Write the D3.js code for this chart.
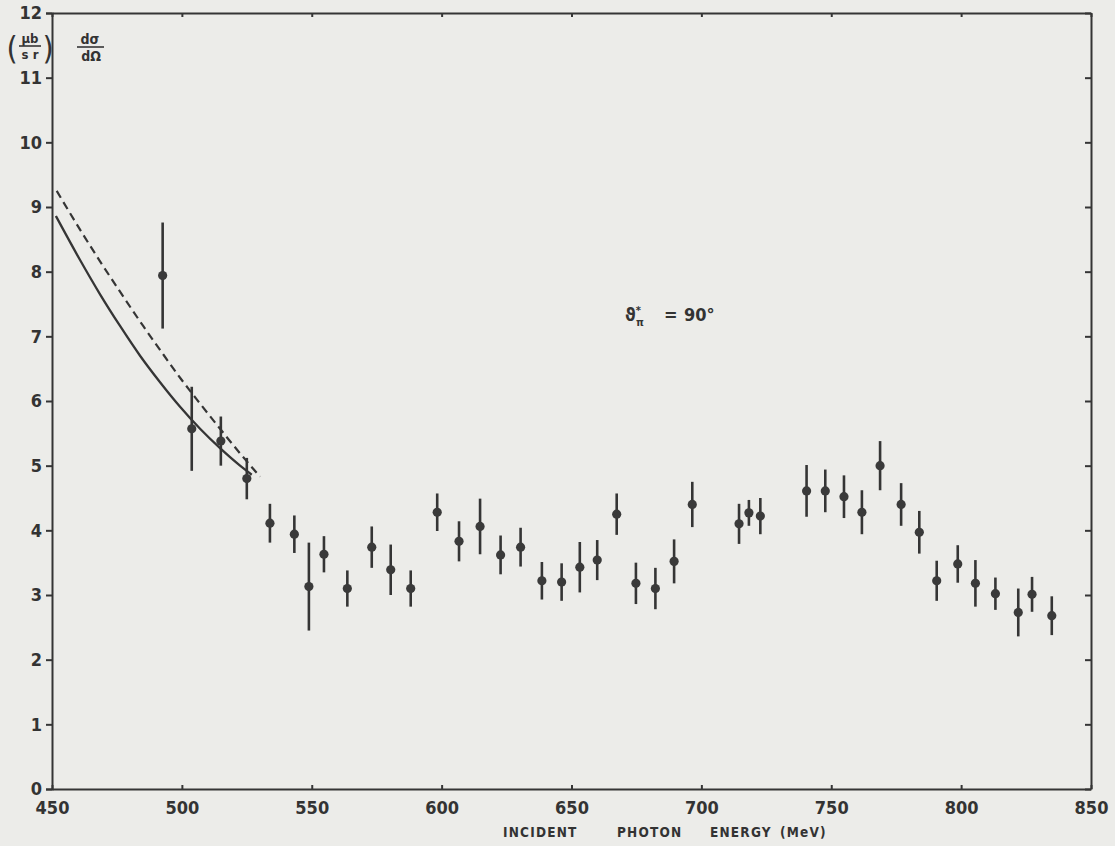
<!DOCTYPE html>
<html>
<head>
<meta charset="utf-8">
<script src="https://cdn.jsdelivr.net/npm/d3@7"></script>
<style>
  body { margin: 0; background: #ecece9; }
  svg { display: block; }
  .lbl { font-family: "DejaVu Sans Condensed", "DejaVu Sans", sans-serif; font-weight: bold; fill: #333; }
</style>
</head>
<body>
<div id="chart"></div>
<script>

// measured points: photon energy (MeV), cross section (ub/sr), error
var energies = [492.6, 503.8, 515.0, 525.0, 533.9, 543.3, 548.9, 554.7, 563.7, 573.1,
                580.4, 588.1, 598.3, 606.7, 614.8, 622.7, 630.4, 638.6, 646.2, 653.2,
                659.9, 667.4, 674.8, 682.3, 689.5, 696.5, 714.5, 718.3, 722.7, 740.5,
                747.7, 754.9, 761.8, 768.8, 776.9, 783.9, 790.6, 798.7, 805.5, 813.2,
                822.0, 827.3, 834.9];
var xsec = [7.94, 5.57, 5.38, 4.80, 4.11, 3.94, 3.13, 3.63, 3.10, 3.74,
            3.39, 3.10, 4.28, 3.83, 4.06, 3.62, 3.74, 3.22, 3.20, 3.43,
            3.54, 4.25, 3.18, 3.10, 3.52, 4.40, 4.10, 4.27, 4.22, 4.61,
            4.61, 4.52, 4.28, 5.00, 4.40, 3.97, 3.22, 3.48, 3.18, 3.02,
            2.73, 3.01, 2.68];
var errors = [0.82, 0.65, 0.38, 0.32, 0.30, 0.29, 0.68, 0.28, 0.28, 0.32,
              0.39, 0.28, 0.29, 0.31, 0.43, 0.30, 0.30, 0.29, 0.29, 0.39,
              0.31, 0.32, 0.32, 0.32, 0.34, 0.35, 0.31, 0.20, 0.28, 0.40,
              0.33, 0.33, 0.34, 0.38, 0.33, 0.33, 0.31, 0.29, 0.36, 0.25,
              0.37, 0.27, 0.30];

// theory curves
var solidE = [451.5, 460.8, 468.5, 476.2, 483.9, 491.6, 499.3, 507.0, 514.7, 522.4, 526.9];
var solidV = [8.86, 8.18, 7.65, 7.16, 6.70, 6.29, 5.91, 5.57, 5.27, 5.00, 4.86];
var dashedE = [451.8, 460.8, 468.5, 476.2, 485.1, 491.6, 499.3, 507.0, 514.7, 522.4, 530.1];
var dashedV = [9.25, 8.65, 8.16, 7.69, 7.16, 6.79, 6.36, 5.96, 5.57, 5.19, 4.83];

var xTicks = [450, 500, 550, 600, 650, 700, 750, 800, 850];
var yTicks = [0, 1, 2, 3, 4, 5, 6, 7, 8, 9, 10, 11, 12];

var ink = "#353535";

var margin = {top: 13, right: 24, bottom: 57, left: 52};
var width = 1115 - margin.left - margin.right,
    height = 846 - margin.top - margin.bottom;

var svg = d3.select("#chart").append("svg")
    .attr("width", 1115)
    .attr("height", 846);

var g = svg.append("g")
    .attr("transform", "translate(" + margin.left + "," + margin.top + ")");

// Scales
var x = d3.scaleLinear().domain([450, 850]).range([0, width]);
var y = d3.scaleLinear().domain([0, 12]).range([height, 0]);

// Axes (left / bottom labelled, top / right just ticks)
var yAxis = d3.axisLeft(y).tickValues(yTicks).tickSize(6).tickPadding(4);
var xAxis = d3.axisBottom(x).tickValues(xTicks).tickSizeInner(-4).tickSizeOuter(0).tickPadding(12);
var topAxis = d3.axisTop(x).tickValues(xTicks).tickSizeInner(-4).tickSizeOuter(0).tickFormat("");
var rightAxis = d3.axisRight(y).tickValues(yTicks).tickSizeInner(-6).tickSizeOuter(0).tickFormat("");

function styleAxis(sel) {
  sel.select(".domain").attr("stroke", ink).attr("stroke-width", 2);
  sel.selectAll(".tick line").attr("stroke", ink).attr("stroke-width", 2);
  sel.selectAll(".tick text")
    .attr("class", "lbl")
    .style("font-size", "18px");
}

g.append("g").attr("class", "axis y-axis").call(yAxis).call(styleAxis);
g.append("g").attr("class", "axis x-axis")
  .attr("transform", "translate(0," + height + ")")
  .call(xAxis).call(styleAxis);
g.append("g").call(topAxis).call(styleAxis);
g.append("g").attr("transform", "translate(" + width + ",0)").call(rightAxis).call(styleAxis);

// Theory curves
var line = d3.line()
  .x(function(d){ return x(d[0]); })
  .y(function(d){ return y(d[1]); })
  .curve(d3.curveMonotoneX);

g.append("path")
  .datum(solidE.map(function(e, i){ return [e, solidV[i]]; }))
  .attr("d", line)
  .attr("fill", "none")
  .attr("stroke", ink)
  .attr("stroke-width", 2.3);

g.append("path")
  .datum(dashedE.map(function(e, i){ return [e, dashedV[i]]; }))
  .attr("d", line)
  .attr("fill", "none")
  .attr("stroke", ink)
  .attr("stroke-width", 2.2)
  .attr("stroke-dasharray", "8,5");

// Data points with error bars
var pts = energies.map(function(e, i){ return {e: e, v: xsec[i], err: errors[i]}; });

g.selectAll("line.err")
  .data(pts)
  .enter()
  .append("line")
  .attr("class", "err")
  .attr("x1", function(d){ return x(d.e); })
  .attr("x2", function(d){ return x(d.e); })
  .attr("y1", function(d){ return y(d.v + d.err); })
  .attr("y2", function(d){ return y(d.v - d.err); })
  .attr("stroke", ink)
  .attr("stroke-width", 2.6);

g.selectAll("circle.pt")
  .data(pts)
  .enter()
  .append("circle")
  .attr("class", "pt")
  .attr("cx", function(d){ return x(d.e); })
  .attr("cy", function(d){ return y(d.v); })
  .attr("r", 4.6)
  .attr("fill", "#3a3a3a");

// Y unit label: (ub/sr)  dsigma/dOmega
var unit = svg.append("g").attr("class", "lbl");
unit.append("text").attr("x", 12).attr("y", 59).attr("text-anchor", "middle")
  .style("font-size", "32px").style("font-weight", "normal").text("(");
unit.append("text").attr("x", 48).attr("y", 59).attr("text-anchor", "middle")
  .style("font-size", "32px").style("font-weight", "normal").text(")");
unit.append("text").attr("x", 30).attr("y", 43).attr("text-anchor", "middle")
  .style("font-size", "13px").text("μb");
unit.append("line").attr("x1", 19).attr("x2", 41).attr("y1", 46).attr("y2", 46)
  .attr("stroke", ink).attr("stroke-width", 1.6);
unit.append("text").attr("x", 30).attr("y", 59).attr("text-anchor", "middle")
  .style("font-size", "13px").text("s r");

unit.append("text").attr("x", 90).attr("y", 44).attr("text-anchor", "middle")
  .style("font-size", "14px").text("dσ");
unit.append("line").attr("x1", 77).attr("x2", 104).attr("y1", 47).attr("y2", 47)
  .attr("stroke", ink).attr("stroke-width", 1.6);
unit.append("text").attr("x", 91).attr("y", 61).attr("text-anchor", "middle")
  .style("font-size", "14px").text("dΩ");

// Angle label
var ang = svg.append("text").attr("class", "lbl")
  .attr("x", 625).attr("y", 321)
  .style("font-size", "18px");
ang.append("tspan").text("ϑ");
ang.append("tspan").attr("dy", -7).style("font-size", "11px").text("*");
ang.append("tspan").attr("dx", -5).attr("dy", 12).style("font-size", "11px").text("π");
ang.append("tspan").attr("dy", -5).attr("x", 664).text("=");
ang.append("tspan").attr("x", 684).text("90°");

// X axis title
var title = svg.append("text").attr("class", "lbl")
  .attr("y", 837)
  .style("font-size", "13.5px")
  .style("letter-spacing", "1.2px");
title.append("tspan").attr("x", 503).text("INCIDENT");
title.append("tspan").attr("x", 617).text("PHOTON");
title.append("tspan").attr("x", 710).text("ENERGY");
title.append("tspan").attr("x", 780).text("(MeV)");

</script>
</body>
</html>
